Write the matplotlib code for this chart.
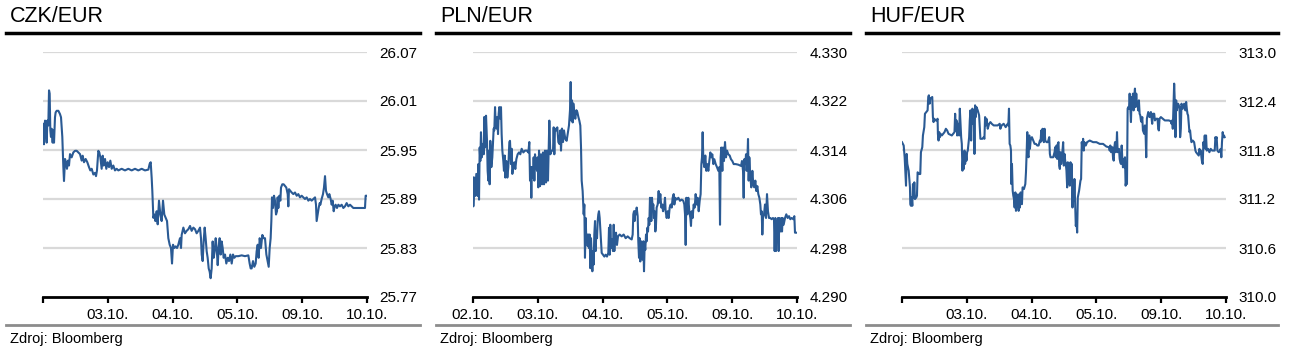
import matplotlib
matplotlib.use('Agg')
import matplotlib.pyplot as plt
from matplotlib.lines import Line2D

plt.rcParams['font.family'] = ['Liberation Sans', 'DejaVu Sans']

# ---- data -------------------------------------------------------------
dates = ['02.10.', '03.10.', '04.10.', '05.10.', '09.10.', '10.10.']
titles = ['CZK/EUR', 'PLN/EUR', 'HUF/EUR']
source = 'Zdroj: Bloomberg'

czk_ticks = [25.77, 25.83, 25.89, 25.95, 26.01, 26.07]
pln_ticks = [4.290, 4.298, 4.306, 4.314, 4.322, 4.330]
huf_ticks = [310.0, 310.6, 311.2, 311.8, 312.4, 313.0]

# time in trading days since 02.10. (0 = 02.10., 5 = 10.10.)
czk_t = [
    0.000, 0.005, 0.015, 0.031, 0.046, 0.057, 0.067, 0.082, 0.093, 0.103,
    0.113, 0.123, 0.134, 0.149, 0.159, 0.170, 0.185, 0.195, 0.211, 0.237,
    0.262, 0.278, 0.298, 0.314, 0.324, 0.340, 0.355, 0.370, 0.386, 0.401,
    0.417, 0.442, 0.468, 0.494, 0.520, 0.545, 0.571, 0.597, 0.612, 0.633,
    0.658, 0.684, 0.710, 0.730, 0.751, 0.777, 0.802, 0.818, 0.833, 0.854,
    0.869, 0.885, 0.905, 0.921, 0.936, 0.957, 0.977, 0.998, 1.019, 1.039,
    1.060, 1.085, 1.111, 1.137, 1.163, 1.214, 1.265, 1.317, 1.368, 1.420,
    1.471, 1.523, 1.574, 1.626, 1.646, 1.662, 1.677, 1.687, 1.703, 1.718,
    1.734, 1.754, 1.770, 1.790, 1.811, 1.831, 1.852, 1.872, 1.893, 1.914,
    1.934, 1.955, 1.975, 1.991, 2.006, 2.027, 2.047, 2.068, 2.088, 2.114,
    2.130, 2.140, 2.166, 2.191, 2.217, 2.243, 2.269, 2.294, 2.320, 2.346,
    2.371, 2.397, 2.423, 2.438, 2.449, 2.464, 2.479, 2.495, 2.510, 2.526,
    2.541, 2.557, 2.572, 2.587, 2.603, 2.618, 2.634, 2.649, 2.665, 2.680,
    2.696, 2.711, 2.726, 2.742, 2.757, 2.773, 2.788, 2.809, 2.829, 2.850,
    2.870, 2.891, 2.912, 2.932, 2.953, 2.973, 3.014, 3.066, 3.117, 3.169,
    3.189, 3.205, 3.220, 3.241, 3.261, 3.282, 3.297, 3.313, 3.328, 3.344,
    3.364, 3.385, 3.405, 3.426, 3.447, 3.467, 3.483, 3.498, 3.513, 3.524,
    3.534, 3.549, 3.565, 3.580, 3.596, 3.611, 3.621, 3.632, 3.647, 3.663,
    3.673, 3.693, 3.714, 3.735, 3.755, 3.776, 3.786, 3.796, 3.817, 3.837,
    3.863, 3.889, 3.915, 3.940, 3.966, 3.992, 4.017, 4.043, 4.069, 4.095,
    4.120, 4.146, 4.172, 4.198, 4.213, 4.223, 4.239, 4.254, 4.270, 4.280,
    4.300, 4.321, 4.336, 4.352, 4.367, 4.383, 4.403, 4.419, 4.439, 4.455,
    4.470, 4.486, 4.501, 4.516, 4.537, 4.558, 4.583, 4.609, 4.635, 4.660,
    4.686, 4.712, 4.738, 4.763, 4.789, 4.815, 4.866, 4.918, 4.969, 4.979,
    5.000,
]
czk_v = [
    25.982, 25.978, 25.957, 25.986, 25.984, 25.959, 25.986, 25.980, 26.023, 26.019,
    25.974, 25.966, 25.976, 25.959, 25.974, 25.959, 25.990, 25.996, 25.998, 25.998,
    25.994, 25.990, 25.966, 25.929, 25.912, 25.939, 25.935, 25.927, 25.937, 25.931,
    25.945, 25.941, 25.947, 25.949, 25.949, 25.947, 25.945, 25.937, 25.943, 25.935,
    25.939, 25.935, 25.929, 25.925, 25.927, 25.920, 25.922, 25.918, 25.925, 25.949,
    25.947, 25.941, 25.927, 25.943, 25.931, 25.939, 25.927, 25.935, 25.929, 25.937,
    25.927, 25.931, 25.925, 25.927, 25.925, 25.927, 25.925, 25.927, 25.925, 25.927,
    25.925, 25.927, 25.925, 25.926, 25.933, 25.935, 25.916, 25.900, 25.867, 25.871,
    25.863, 25.875, 25.859, 25.888, 25.871, 25.863, 25.888, 25.871, 25.867, 25.863,
    25.842, 25.834, 25.830, 25.811, 25.834, 25.830, 25.832, 25.830, 25.834, 25.842,
    25.830, 25.846, 25.855, 25.848, 25.851, 25.853, 25.857, 25.851, 25.855, 25.853,
    25.848, 25.851, 25.855, 25.842, 25.822, 25.814, 25.838, 25.855, 25.842, 25.826,
    25.818, 25.805, 25.801, 25.793, 25.805, 25.838, 25.818, 25.826, 25.842, 25.830,
    25.809, 25.830, 25.842, 25.822, 25.838, 25.830, 25.818, 25.822, 25.811, 25.818,
    25.814, 25.822, 25.811, 25.822, 25.818, 25.820, 25.820, 25.821, 25.820, 25.821,
    25.811, 25.805, 25.805, 25.814, 25.807, 25.811, 25.826, 25.834, 25.818, 25.842,
    25.830, 25.846, 25.842, 25.842, 25.822, 25.814, 25.807, 25.830, 25.842, 25.863,
    25.892, 25.879, 25.894, 25.888, 25.871, 25.875, 25.892, 25.879, 25.894, 25.888,
    25.904, 25.908, 25.908, 25.906, 25.904, 25.896, 25.881, 25.902, 25.900, 25.898,
    25.896, 25.898, 25.894, 25.896, 25.892, 25.894, 25.892, 25.890, 25.892, 25.888,
    25.890, 25.888, 25.890, 25.892, 25.883, 25.863, 25.871, 25.879, 25.885, 25.883,
    25.890, 25.896, 25.904, 25.918, 25.900, 25.896, 25.892, 25.896, 25.890, 25.883,
    25.888, 25.875, 25.881, 25.883, 25.879, 25.883, 25.881, 25.883, 25.879, 25.881,
    25.885, 25.881, 25.883, 25.881, 25.879, 25.879, 25.879, 25.879, 25.879, 25.894,
    25.894,
]

pln_t = [
    0.000, 0.005, 0.021, 0.036, 0.051, 0.072, 0.082, 0.093, 0.103, 0.113,
    0.123, 0.134, 0.149, 0.165, 0.175, 0.185, 0.201, 0.216, 0.226, 0.237,
    0.247, 0.257, 0.267, 0.283, 0.298, 0.319, 0.329, 0.340, 0.350, 0.365,
    0.376, 0.386, 0.396, 0.406, 0.422, 0.432, 0.442, 0.453, 0.468, 0.478,
    0.489, 0.499, 0.514, 0.530, 0.545, 0.561, 0.571, 0.586, 0.597, 0.607,
    0.622, 0.638, 0.653, 0.669, 0.689, 0.710, 0.730, 0.751, 0.777, 0.802,
    0.833, 0.854, 0.869, 0.880, 0.890, 0.900, 0.910, 0.926, 0.936, 0.947,
    0.957, 0.972, 0.988, 0.998, 1.008, 1.019, 1.034, 1.049, 1.065, 1.080,
    1.096, 1.111, 1.127, 1.142, 1.157, 1.168, 1.178, 1.193, 1.214, 1.235,
    1.245, 1.255, 1.265, 1.286, 1.301, 1.317, 1.332, 1.348, 1.358, 1.373,
    1.389, 1.404, 1.425, 1.445, 1.466, 1.481, 1.497, 1.507, 1.517, 1.528,
    1.538, 1.548, 1.564, 1.579, 1.595, 1.610, 1.626, 1.641, 1.656, 1.667,
    1.677, 1.692, 1.708, 1.718, 1.728, 1.739, 1.749, 1.759, 1.770, 1.780,
    1.790, 1.800, 1.811, 1.821, 1.831, 1.842, 1.852, 1.862, 1.872, 1.883,
    1.893, 1.903, 1.914, 1.924, 1.934, 1.944, 1.955, 1.970, 1.986, 2.006,
    2.027, 2.047, 2.068, 2.088, 2.099, 2.109, 2.119, 2.130, 2.145, 2.160,
    2.171, 2.181, 2.191, 2.207, 2.222, 2.238, 2.263, 2.294, 2.325, 2.356,
    2.387, 2.418, 2.449, 2.464, 2.474, 2.485, 2.495, 2.505, 2.515, 2.526,
    2.541, 2.551, 2.562, 2.572, 2.582, 2.593, 2.608, 2.618, 2.629, 2.639,
    2.649, 2.659, 2.670, 2.680, 2.690, 2.701, 2.711, 2.721, 2.731, 2.742,
    2.752, 2.762, 2.773, 2.783, 2.793, 2.803, 2.814, 2.824, 2.834, 2.850,
    2.865, 2.876, 2.891, 2.906, 2.922, 2.932, 2.948, 2.963, 2.973, 2.989,
    3.004, 3.020, 3.035, 3.050, 3.066, 3.081, 3.097, 3.107, 3.122, 3.143,
    3.169, 3.194, 3.220, 3.246, 3.261, 3.272, 3.282, 3.292, 3.308, 3.323,
    3.338, 3.354, 3.364, 3.374, 3.390, 3.405, 3.421, 3.436, 3.452, 3.467,
    3.483, 3.498, 3.513, 3.524, 3.534, 3.544, 3.555, 3.570, 3.585, 3.601,
    3.616, 3.632, 3.647, 3.663, 3.678, 3.693, 3.709, 3.724, 3.745, 3.765,
    3.786, 3.801, 3.812, 3.822, 3.832, 3.848, 3.858, 3.873, 3.889, 3.904,
    3.920, 3.940, 3.961, 3.981, 4.002, 4.023, 4.053, 4.095, 4.136, 4.151,
    4.167, 4.177, 4.187, 4.203, 4.213, 4.223, 4.234, 4.244, 4.254, 4.264,
    4.280, 4.295, 4.311, 4.326, 4.341, 4.357, 4.372, 4.388, 4.403, 4.419,
    4.434, 4.444, 4.455, 4.465, 4.475, 4.491, 4.506, 4.522, 4.537, 4.552,
    4.568, 4.588, 4.609, 4.629, 4.645, 4.655, 4.666, 4.676, 4.686, 4.697,
    4.707, 4.717, 4.727, 4.738, 4.748, 4.758, 4.769, 4.779, 4.794, 4.815,
    4.835, 4.856, 4.877, 4.897, 4.918, 4.943, 4.959, 4.969, 5.000,
]
pln_v = [
    4.3095, 4.3048, 4.3095, 4.3065, 4.3101, 4.3065, 4.3117, 4.3059, 4.3144, 4.3122,
    4.3169, 4.3128, 4.3150, 4.3133, 4.3194, 4.3144, 4.3196, 4.3155, 4.3106, 4.3090,
    4.3139, 4.3084, 4.3155, 4.3112, 4.3128, 4.3175, 4.3172, 4.3210, 4.3183, 4.3175,
    4.3194, 4.3166, 4.3199, 4.3210, 4.3191, 4.3210, 4.3166, 4.3139, 4.3122, 4.3106,
    4.3131, 4.3095, 4.3122, 4.3095, 4.3112, 4.3153, 4.3155, 4.3117, 4.3142, 4.3101,
    4.3112, 4.3120, 4.3109, 4.3125, 4.3133, 4.3136, 4.3133, 4.3142, 4.3136, 4.3139,
    4.3139, 4.3136, 4.3153, 4.3090, 4.3112, 4.3062, 4.3112, 4.3095, 4.3128, 4.3090,
    4.3133, 4.3117, 4.3106, 4.3128, 4.3079, 4.3139, 4.3081, 4.3133, 4.3084, 4.3136,
    4.3084, 4.3139, 4.3087, 4.3139, 4.3090, 4.3139, 4.3188, 4.3133, 4.3139, 4.3139,
    4.3177, 4.3133, 4.3175, 4.3172, 4.3177, 4.3153, 4.3150, 4.3172, 4.3139, 4.3175,
    4.3153, 4.3172, 4.3158, 4.3155, 4.3169, 4.3180, 4.3205, 4.3251, 4.3188, 4.3221,
    4.3185, 4.3216, 4.3199, 4.3191, 4.3205, 4.3202, 4.3194, 4.3188, 4.3180, 4.3144,
    4.3090, 4.3073, 4.3035, 4.3051, 4.2964, 4.3029, 4.2991, 4.3002, 4.2983, 4.3002,
    4.2980, 4.3002, 4.2947, 4.2996, 4.2972, 4.2942, 4.2975, 4.2953, 4.3002, 4.3024,
    4.2975, 4.3007, 4.2996, 4.3024, 4.3035, 4.3040, 4.3029, 4.3002, 4.2972, 4.2969,
    4.2966, 4.2969, 4.2966, 4.2972, 4.3013, 4.2969, 4.3018, 4.2980, 4.2994, 4.2975,
    4.3018, 4.2975, 4.2996, 4.3005, 4.2985, 4.2999, 4.3002, 4.2999, 4.3002, 4.2996,
    4.2999, 4.2996, 4.2994, 4.3002, 4.3035, 4.3040, 4.3024, 4.3040, 4.3035, 4.3046,
    4.3032, 4.2991, 4.2964, 4.2996, 4.2958, 4.2991, 4.2980, 4.2961, 4.2991, 4.2942,
    4.2985, 4.2977, 4.3002, 4.2991, 4.3013, 4.3007, 4.3029, 4.3018, 4.3062, 4.3051,
    4.3024, 4.3062, 4.3046, 4.3051, 4.3029, 4.3040, 4.3007, 4.3018, 4.3046, 4.3051,
    4.3073, 4.3054, 4.3068, 4.3046, 4.3051, 4.3040, 4.3046, 4.3062, 4.3040, 4.3029,
    4.3040, 4.3029, 4.3046, 4.3051, 4.3046, 4.3062, 4.3068, 4.3051, 4.3062, 4.3059,
    4.3062, 4.3057, 4.3059, 4.3057, 4.3051, 4.3035, 4.2985, 4.3062, 4.3035, 4.3062,
    4.3040, 4.3029, 4.3016, 4.3040, 4.3029, 4.3051, 4.3046, 4.3068, 4.3051, 4.3062,
    4.3040, 4.3057, 4.3068, 4.3117, 4.3128, 4.3169, 4.3122, 4.3112, 4.3131, 4.3106,
    4.3117, 4.3106, 4.3122, 4.3136, 4.3128, 4.3133, 4.3117, 4.3125, 4.3117, 4.3112,
    4.3106, 4.3112, 4.3018, 4.3128, 4.3144, 4.3106, 4.3144, 4.3122, 4.3153, 4.3128,
    4.3139, 4.3133, 4.3131, 4.3125, 4.3122, 4.3117, 4.3117, 4.3116, 4.3114, 4.3122,
    4.3106, 4.3062, 4.3125, 4.3117, 4.3133, 4.3106, 4.3122, 4.3158, 4.3090, 4.3128,
    4.3095, 4.3079, 4.3106, 4.3084, 4.3079, 4.3090, 4.3073, 4.3081, 4.3068, 4.3062,
    4.3051, 4.3035, 4.3040, 4.3002, 4.3029, 4.3035, 4.3051, 4.3029, 4.3068, 4.3040,
    4.3029, 4.3029, 4.3027, 4.3029, 4.3027, 4.2975, 4.3029, 4.2975, 4.3024, 4.3013,
    4.3029, 4.2975, 4.3029, 4.3013, 4.3007, 4.3029, 4.3007, 4.3029, 4.3018, 4.3029,
    4.3035, 4.3029, 4.3032, 4.3027, 4.3029, 4.3027, 4.3032, 4.3005, 4.3005,
]

huf_t = [
    0.000, 0.026, 0.041, 0.062, 0.072, 0.082, 0.103, 0.123, 0.128, 0.138,
    0.149, 0.159, 0.169, 0.179, 0.190, 0.200, 0.221, 0.231, 0.241, 0.262,
    0.282, 0.292, 0.313, 0.323, 0.344, 0.354, 0.374, 0.395, 0.405, 0.415,
    0.426, 0.436, 0.467, 0.477, 0.487, 0.497, 0.518, 0.538, 0.549, 0.554,
    0.564, 0.574, 0.585, 0.595, 0.615, 0.636, 0.656, 0.677, 0.697, 0.718,
    0.769, 0.810, 0.820, 0.831, 0.841, 0.851, 0.872, 0.882, 0.892, 0.903,
    0.913, 0.923, 0.933, 0.944, 0.954, 0.964, 0.974, 0.985, 0.995, 1.005,
    1.015, 1.036, 1.046, 1.056, 1.067, 1.077, 1.087, 1.097, 1.108, 1.118,
    1.128, 1.138, 1.149, 1.169, 1.190, 1.210, 1.241, 1.262, 1.272, 1.282,
    1.292, 1.303, 1.323, 1.344, 1.364, 1.385, 1.415, 1.446, 1.477, 1.508,
    1.518, 1.538, 1.569, 1.600, 1.631, 1.641, 1.651, 1.661, 1.672, 1.682,
    1.687, 1.697, 1.708, 1.718, 1.728, 1.738, 1.749, 1.759, 1.769, 1.779,
    1.790, 1.800, 1.810, 1.820, 1.831, 1.841, 1.851, 1.861, 1.882, 1.903,
    1.913, 1.923, 1.933, 1.944, 1.954, 1.964, 1.974, 1.985, 2.005, 2.026,
    2.046, 2.067, 2.087, 2.108, 2.128, 2.138, 2.149, 2.159, 2.169, 2.179,
    2.190, 2.200, 2.210, 2.231, 2.251, 2.272, 2.282, 2.292, 2.313, 2.333,
    2.354, 2.364, 2.374, 2.385, 2.395, 2.405, 2.415, 2.426, 2.436, 2.446,
    2.456, 2.467, 2.477, 2.487, 2.497, 2.508, 2.518, 2.528, 2.538, 2.549,
    2.559, 2.569, 2.579, 2.590, 2.600, 2.610, 2.620, 2.631, 2.641, 2.651,
    2.661, 2.672, 2.682, 2.692, 2.703, 2.713, 2.733, 2.754, 2.764, 2.774,
    2.785, 2.795, 2.805, 2.815, 2.836, 2.856, 2.897, 2.949, 3.000, 3.051,
    3.103, 3.154, 3.195, 3.205, 3.215, 3.226, 3.246, 3.256, 3.267, 3.277,
    3.287, 3.297, 3.308, 3.318, 3.328, 3.349, 3.359, 3.369, 3.379, 3.390,
    3.400, 3.410, 3.421, 3.431, 3.441, 3.451, 3.462, 3.472, 3.482, 3.492,
    3.503, 3.513, 3.523, 3.533, 3.544, 3.554, 3.564, 3.574, 3.585, 3.595,
    3.605, 3.615, 3.626, 3.636, 3.646, 3.656, 3.667, 3.677, 3.687, 3.697,
    3.708, 3.718, 3.728, 3.738, 3.749, 3.759, 3.769, 3.779, 3.790, 3.800,
    3.820, 3.841, 3.861, 3.872, 3.892, 3.903, 3.923, 3.944, 3.954, 3.964,
    3.974, 3.995, 4.026, 4.056, 4.087, 4.118, 4.149, 4.159, 4.169, 4.179,
    4.190, 4.200, 4.210, 4.220, 4.231, 4.241, 4.261, 4.282, 4.292, 4.303,
    4.313, 4.333, 4.354, 4.374, 4.385, 4.395, 4.405, 4.415, 4.426, 4.436,
    4.446, 4.456, 4.467, 4.487, 4.508, 4.528, 4.538, 4.559, 4.579, 4.590,
    4.600, 4.610, 4.621, 4.631, 4.641, 4.651, 4.662, 4.672, 4.682, 4.692,
    4.703, 4.723, 4.744, 4.764, 4.785, 4.805, 4.826, 4.836, 4.846, 4.856,
    4.867, 4.887, 4.908, 4.918, 4.928, 4.938, 4.949, 4.959, 4.969, 4.979,
]
huf_v = [
    311.896, 311.855, 311.711, 311.363, 311.752, 311.629, 311.547, 311.342, 311.137, 311.117,
    311.219, 311.117, 311.383, 311.219, 311.404, 311.199, 311.219, 311.240, 311.527, 311.506,
    311.506, 311.773, 311.834, 311.978, 312.080, 312.244, 312.265, 312.285, 312.449, 312.470,
    312.367, 312.429, 312.449, 312.203, 312.142, 312.183, 312.162, 312.162, 312.183, 311.998,
    311.916, 312.019, 311.957, 311.998, 311.978, 311.998, 312.019, 312.060, 312.039, 311.998,
    311.978, 312.019, 312.244, 312.039, 312.162, 311.978, 312.121, 311.978, 312.306, 312.121,
    311.957, 311.875, 311.547, 311.711, 311.568, 311.793, 311.629, 311.752, 311.670, 311.773,
    311.793, 311.957, 312.162, 312.285, 311.916, 312.224, 312.306, 312.121, 312.285, 311.752,
    312.347, 312.203, 312.326, 312.285, 312.224, 311.937, 311.937, 311.957, 311.937, 312.203,
    312.101, 312.183, 312.060, 312.121, 312.142, 312.121, 312.101, 312.101, 312.101, 312.121,
    312.060, 312.101, 312.121, 312.080, 312.121, 312.101, 312.306, 311.875, 311.855, 311.793,
    311.383, 311.629, 311.301, 311.240, 311.199, 311.096, 311.281, 311.055, 311.260, 311.137,
    311.219, 311.055, 311.260, 311.096, 311.281, 311.178, 311.137, 311.342, 311.322, 311.383,
    311.527, 311.752, 312.019, 311.732, 311.711, 311.978, 311.814, 311.916, 311.957, 311.916,
    311.875, 311.875, 311.855, 311.855, 311.916, 311.896, 312.039, 311.916, 312.060, 311.957,
    311.896, 312.060, 311.916, 311.896, 311.896, 311.957, 311.752, 311.711, 311.711, 311.711,
    311.773, 311.834, 311.711, 311.855, 311.691, 311.875, 311.896, 311.609, 311.568, 311.773,
    311.629, 311.691, 311.793, 311.896, 311.609, 311.752, 311.670, 311.629, 311.547, 311.342,
    311.650, 311.383, 311.588, 311.363, 311.650, 311.465, 311.629, 311.096, 311.424, 311.178,
    311.445, 311.137, 310.871, 310.932, 310.789, 311.219, 311.301, 311.424, 311.445, 311.896,
    311.814, 311.937, 311.793, 311.896, 311.855, 311.896, 311.916, 311.896, 311.896, 311.875,
    311.875, 311.842, 311.834, 311.793, 311.855, 311.773, 311.834, 311.711, 311.670, 311.834,
    311.896, 311.773, 311.793, 312.019, 311.773, 311.814, 311.691, 311.650, 311.629, 311.855,
    311.691, 311.588, 311.691, 311.588, 311.711, 311.363, 311.424, 311.383, 312.306, 312.326,
    312.306, 312.490, 312.306, 312.142, 312.449, 312.367, 312.490, 312.285, 312.470, 312.552,
    312.326, 312.490, 312.347, 312.367, 312.285, 312.408, 312.244, 312.224, 312.162, 312.142,
    312.203, 312.039, 312.019, 311.998, 312.101, 311.998, 311.711, 312.183, 312.224, 312.265,
    312.203, 312.265, 312.121, 312.244, 312.244, 312.162, 312.183, 312.183, 312.060, 312.039,
    312.183, 312.203, 312.183, 312.162, 312.162, 312.162, 312.152, 312.121, 312.162, 312.060,
    312.367, 312.613, 312.388, 311.957, 312.408, 312.285, 312.367, 312.326, 311.957, 312.060,
    312.367, 312.306, 312.367, 312.285, 312.388, 312.306, 312.244, 312.224, 312.121, 312.019,
    312.039, 311.957, 311.896, 311.916, 311.896, 311.793, 311.773, 311.752, 311.732, 311.814,
    311.752, 311.793, 311.711, 311.650, 311.629, 311.896, 311.834, 311.978, 311.814, 311.978,
    311.793, 311.814, 311.773, 311.814, 311.793, 311.793, 311.793, 311.957, 311.937, 311.957,
    311.793, 311.773, 311.793, 311.814, 311.711, 311.896, 312.019, 311.957, 311.978, 311.957,
]

# ---- layout (pixels) --------------------------------------------------
W, H = 1311, 354
LINE_COLOR = '#2a5a94'


def fx(px):
    return px / W


def fy(py):
    return 1 - py / H


fig = plt.figure(figsize=(W / 100, H / 100), dpi=100)

panels = [
    (titles[0], czk_t, czk_v, czk_ticks, '{:.2f}', False, 0, 43, 420),
    (titles[1], pln_t, pln_v, pln_ticks, '{:.3f}', True, 430, 43, 420),
    (titles[2], huf_t, huf_v, huf_ticks, '{:.1f}', False, 860, 42, 418),
]

for title, t, v, ticks, fmt, first_label, x0, left, right in panels:
    ax = fig.add_axes([fx(x0 + left), fy(297), fx(324), 245 / H])
    for y in ticks[1:]:
        ax.axhline(y, color='#d9d9d9', lw=1.6, zorder=0)
    ax.plot(t, v, color=LINE_COLOR, lw=1.5, zorder=3)
    ax.set_xlim(0, 5)
    ax.set_ylim(ticks[0], ticks[-1])

    for s in ['top', 'left', 'right']:
        ax.spines[s].set_visible(False)
    ax.spines['bottom'].set_linewidth(2)
    ax.spines['bottom'].set_color('black')

    ax.yaxis.tick_right()
    ax.set_yticks(ticks)
    ax.set_yticklabels([fmt.format(y) for y in ticks])
    ax.tick_params(axis='y', length=0, pad=9, labelsize=11)

    ax.set_xticks(range(len(dates)))
    labels = list(dates)
    if not first_label:
        labels[0] = ''
    ax.set_xticklabels(labels)
    ax.tick_params(axis='x', length=4, width=1.6, direction='out', pad=4, labelsize=11)

    fig.text(fx(x0 + 10), fy(16), title, fontsize=15.5, va='center', ha='left')
    fig.add_artist(Line2D([fx(x0 + 6), fx(x0 + right)], [fy(33), fy(33)],
                          color='black', lw=2.5))
    fig.add_artist(Line2D([fx(x0 + 6), fx(x0 + right)], [fy(325), fy(325)],
                          color='#8c8c8c', lw=2))
    fig.text(fx(x0 + 10), fy(339), source, fontsize=10.5, va='center', ha='left')

fig.savefig('out.png', dpi=100)
